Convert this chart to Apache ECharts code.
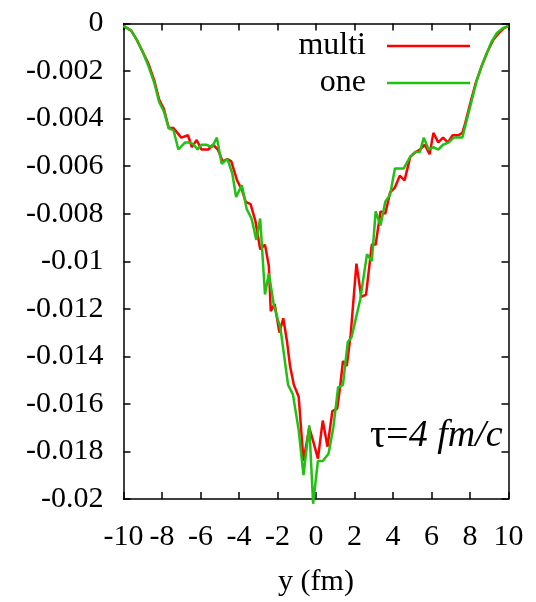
<!DOCTYPE html>
<html>
<head>
<meta charset="utf-8">
<script src="https://cdn.jsdelivr.net/npm/echarts@6/dist/echarts.min.js"></script>
<style>
  html, body { margin: 0; padding: 0; background: #fff; }
  #main { width: 536px; height: 602px; }
</style>
</head>
<body>
<div id="main"></div>
<script>
// multi (red)
var multiX = [-10, -9.6, -9.3, -9.0, -8.7, -8.4, -8.15, -7.9, -7.65, -7.4, -7.0, -6.65, -6.45, -6.2, -5.95, -5.6, -5.35, -5.1, -4.85, -4.6, -4.4, -4.1, -3.85, -3.65, -3.4, -3.15, -2.9, -2.65, -2.45, -2.35, -2.15, -1.9, -1.7, -1.5, -1.35, -1.15, -0.9, -0.65, -0.35, -0.1, 0.1, 0.35, 0.6, 0.85, 1.1, 1.25, 1.4, 1.6, 1.8, 2.1, 2.35, 2.6, 2.9, 3.1, 3.35, 3.6, 3.85, 4.1, 4.35, 4.6, 4.9, 5.2, 5.4, 5.65, 5.9, 6.1, 6.35, 6.6, 6.85, 7.1, 7.4, 7.6, 7.75, 8.0, 8.3, 8.6, 8.9, 9.2, 9.5, 9.75, 10];
var multiY = [-0.0001, -0.0003, -0.0007, -0.0012, -0.0017, -0.0024, -0.0032, -0.0036, -0.0044, -0.0044, -0.0048, -0.0047, -0.0052, -0.0049, -0.0053, -0.0053, -0.0051, -0.0053, -0.0058, -0.0057, -0.0058, -0.0066, -0.0070, -0.0075, -0.0076, -0.0083, -0.0095, -0.0093, -0.0102, -0.0121, -0.0118, -0.0130, -0.0124, -0.0134, -0.0144, -0.0152, -0.0157, -0.0184, -0.0170, -0.0177, -0.0183, -0.0167, -0.0178, -0.0163, -0.0162, -0.0153, -0.0142, -0.0144, -0.0131, -0.0101, -0.0115, -0.0114, -0.0093, -0.0093, -0.0079, -0.0080, -0.0071, -0.0069, -0.0064, -0.0066, -0.0056, -0.0054, -0.0053, -0.0051, -0.0055, -0.0046, -0.0050, -0.0048, -0.0050, -0.0047, -0.0047, -0.0046, -0.0042, -0.0034, -0.0025, -0.0018, -0.0012, -0.0007, -0.0004, -0.0002, -0.0001];

// one (green)
var oneX = [-10, -9.6, -9.3, -9.0, -8.7, -8.4, -8.15, -7.9, -7.65, -7.4, -7.15, -6.8, -6.55, -6.35, -6.15, -5.95, -5.7, -5.4, -5.15, -4.9, -4.6, -4.35, -4.15, -3.85, -3.6, -3.35, -3.1, -2.9, -2.65, -2.45, -2.2, -2.0, -1.85, -1.45, -1.2, -0.9, -0.65, -0.35, -0.15, 0.1, 0.35, 0.65, 0.9, 1.15, 1.4, 1.65, 1.85, 2.1, 2.3, 2.65, 2.9, 3.1, 3.35, 3.6, 3.85, 4.1, 4.55, 4.9, 5.15, 5.4, 5.6, 5.85, 6.1, 6.35, 6.6, 6.9, 7.15, 7.6, 7.85, 8.1, 8.35, 8.6, 8.85, 9.1, 9.4, 9.7, 10];
var oneY = [-0.0001, -0.0003, -0.0007, -0.0012, -0.0018, -0.0025, -0.0033, -0.0037, -0.0044, -0.0045, -0.0053, -0.0050, -0.0050, -0.0051, -0.0053, -0.0051, -0.0051, -0.0052, -0.0048, -0.0059, -0.0057, -0.0063, -0.0073, -0.0068, -0.0078, -0.0082, -0.0091, -0.0082, -0.0114, -0.0105, -0.0118, -0.0124, -0.0128, -0.0152, -0.0156, -0.0171, -0.0190, -0.0169, -0.0202, -0.0184, -0.0184, -0.0181, -0.0170, -0.0153, -0.0152, -0.0134, -0.0132, -0.0123, -0.0116, -0.0097, -0.0100, -0.0079, -0.0085, -0.0075, -0.0072, -0.0061, -0.0061, -0.0056, -0.0054, -0.0054, -0.0048, -0.0053, -0.0052, -0.0053, -0.0051, -0.0050, -0.0048, -0.0048, -0.0040, -0.0032, -0.0024, -0.0018, -0.0013, -0.0008, -0.0004, -0.0002, -0.0001];

function pairs(xs, ys) {
  var out = [];
  for (var i = 0; i < xs.length; i++) out.push([xs[i], ys[i]]);
  return out;
}

var font = "'Liberation Serif', 'DejaVu Serif', serif";
var myChart = echarts.init(document.getElementById("main"));

var frameAxis = {
  axisLine: { show: true, onZero: false, lineStyle: { color: "#000", width: 1.5 } },
  axisTick: { show: true, inside: true, length: 7, lineStyle: { color: "#000", width: 1.5 } },
  splitLine: { show: false },
};

var option = {
  animation: false,
  backgroundColor: "#fff",
  grid: { left: 123.5, right: 27.5, top: 23.5, bottom: 100.5 },
  legend: {
    orient: "vertical",
    align: "right",
    right: 66,
    top: 30,
    padding: 0,
    icon: "rect",
    itemWidth: 83,
    itemHeight: 2.5,
    itemGap: 5,
    textStyle: { fontFamily: font, fontSize: 32, color: "#000", lineHeight: 32, padding: [0, 16, 0, 0] },
    data: ["multi", "one"],
  },
  xAxis: [
    Object.assign({}, frameAxis, {
      type: "value",
      min: -10,
      max: 10,
      interval: 2,
      name: "y (fm)",
      nameLocation: "middle",
      nameGap: 68,
      nameTextStyle: { fontFamily: font, fontSize: 30, color: "#000" },
      axisLabel: { fontFamily: font, fontSize: 30, color: "#000", margin: 23 },
    }),
    Object.assign({}, frameAxis, {
      type: "value",
      position: "top",
      min: -10,
      max: 10,
      interval: 2,
      axisLabel: { show: false },
    }),
  ],
  yAxis: [
    Object.assign({}, frameAxis, {
      type: "value",
      min: -0.02,
      max: 0,
      interval: 0.002,
      axisLabel: {
        fontFamily: font,
        fontSize: 30,
        color: "#000",
        margin: 20,
        formatter: function (v) {
          return String(parseFloat(v.toFixed(4)));
        },
      },
    }),
    Object.assign({}, frameAxis, {
      type: "value",
      position: "right",
      min: -0.02,
      max: 0,
      interval: 0.002,
      axisLabel: { show: false },
    }),
  ],
  graphic: [
    {
      type: "text",
      x: 370,
      y: 436,
      style: {
        text: "{a|τ=}{b|4 fm/c}",
        verticalAlign: "middle",
        rich: {
          a: { fontFamily: font, fontSize: 40, fill: "#000" },
          b: { fontFamily: font, fontSize: 38, fontStyle: "italic", fill: "#000" },
        },
      },
    },
  ],
  series: [
    {
      name: "multi",
      type: "line",
      data: pairs(multiX, multiY),
      symbol: "none",
      clip: false,
      lineStyle: { color: "#ff0000", width: 2.5 },
      itemStyle: { color: "#ff0000" },
    },
    {
      name: "one",
      type: "line",
      data: pairs(oneX, oneY),
      symbol: "none",
      clip: false,
      lineStyle: { color: "#22c012", width: 2.5 },
      itemStyle: { color: "#22c012" },
    },
  ],
};

option && myChart.setOption(option);
</script>
</body>
</html>
